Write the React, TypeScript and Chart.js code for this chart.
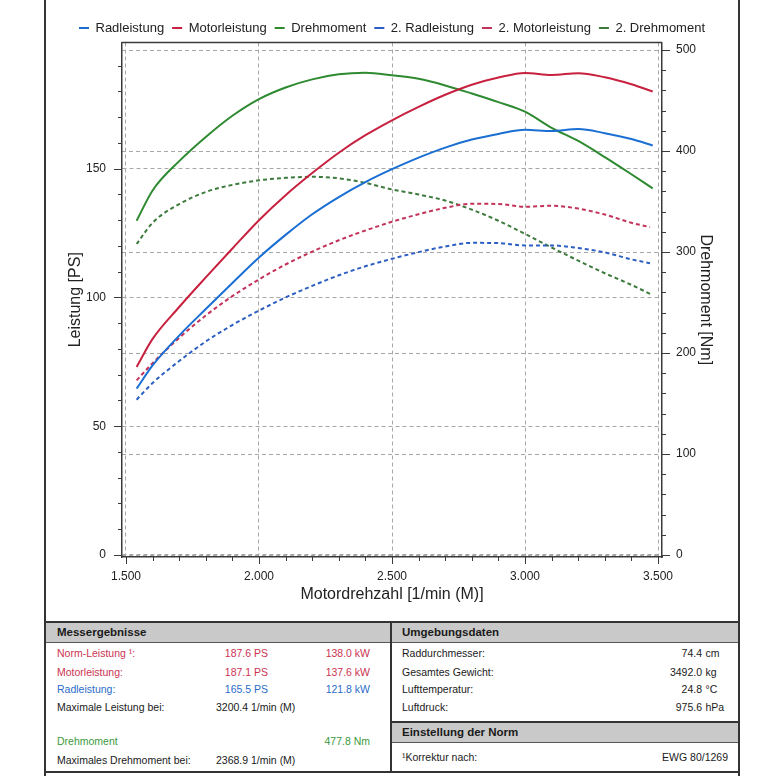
import React, { useEffect, useRef } from 'react';
import { Chart, registerables } from 'chart.js';

Chart.register(...registerables);

// ---------- data ----------
const rpmMain = [1540, 1600, 1700, 1800, 1900, 2000, 2100, 2200, 2300, 2400, 2500, 2600, 2700, 2800, 2900, 3000, 3100, 3200, 3300, 3400, 3480];
const radleistung = [64.6, 73.6, 85.2, 95.5, 105.6, 115.5, 124.3, 132.3, 139, 144.8, 149.8, 154.3, 158.2, 161.3, 163.5, 165.1, 164.6, 165.4, 163.8, 161.5, 159];
const motorleistung = [73, 83.9, 96.3, 107.8, 119, 130, 139.7, 148.3, 156.2, 163, 168.8, 174, 178.7, 182.6, 185.4, 187.2, 186.4, 187.1, 185.5, 182.8, 180];
const drehmoment = [331, 361, 390, 414, 435, 451.5, 463, 471, 476, 477.5, 475, 471.5, 465, 457, 448.5, 439, 423, 410, 394, 377, 363];

const rpmSecond = [1540, 1600, 1700, 1800, 1900, 2000, 2100, 2200, 2300, 2400, 2500, 2600, 2700, 2800, 2900, 3000, 3100, 3200, 3300, 3400, 3470];
const radleistung2 = [60.3, 66.8, 75.3, 82.9, 89.3, 94.9, 100, 104.5, 108.6, 112.1, 115, 117.6, 119.8, 121.2, 121.1, 120.2, 120.2, 119.2, 117.5, 114.8, 113.3];
const motorleistung2 = [67.8, 74.5, 84.3, 93, 100.5, 107, 112.8, 117.8, 122.2, 126, 129.4, 132.3, 134.8, 136.4, 136.3, 135.2, 135.6, 134.5, 132.2, 129, 127.3];
const drehmoment2 = [308, 329, 347.5, 359.5, 366.5, 371, 373.5, 374.5, 373, 368.5, 362, 357, 351, 342, 331, 318, 304.5, 291.5, 279, 267.5, 258.6];

const seriesLabels = ['Radleistung', 'Motorleistung', 'Drehmoment', '2. Radleistung', '2. Motorleistung', '2. Drehmoment'];

const xTickValues = [1500, 1600, 1700, 1800, 1900, 2000, 2100, 2200, 2300, 2400, 2500, 2600, 2700, 2800, 2900, 3000, 3100, 3200, 3300, 3400, 3500];
const leftTickValues = [0, 10, 20, 30, 40, 50, 60, 70, 80, 90, 100, 110, 120, 130, 140, 150, 160, 170, 180, 190];
const rightTickValues = [0, 20, 40, 60, 80, 100, 120, 140, 160, 180, 200, 220, 240, 260, 280, 300, 320, 340, 360, 380, 400, 420, 440, 460, 480, 500];

// table texts
const messLabels = ['Norm-Leistung \u00b9:', 'Motorleistung:', 'Radleistung:', 'Maximale Leistung bei:', 'Drehmoment', 'Maximales Drehmoment bei:'];
const messPS = ['187.6 PS', '187.1 PS', '165.5 PS'];
const messKW = ['138.0 kW', '137.6 kW', '121.8 kW'];
const maxLeistungBei = '3200.4 1/min (M)';
const maxDrehmoment = '477.8 Nm';
const maxDrehmomentBei = '2368.9 1/min (M)';
const umgLabels = ['Raddurchmesser:', 'Gesamtes Gewicht:', 'Lufttemperatur:', 'Luftdruck:'];
const umgValues = ['74.4', '3492.0', '24.8', '975.6'];
const umgUnits = ['cm', 'kg', '\u00b0C', 'hPa'];
const normLabel = '\u00b9Korrektur nach:';
const normValue = 'EWG 80/1269';

// ---------- styles ----------
const FONT = "'Liberation Sans', Arial, sans-serif";
const BLUE = '#1b6fd3';
const RED = '#c8203f';
const GREEN = '#2e8a30';
const BLUE2 = '#2d5fc2';
const RED2 = '#c2325a';
const GREEN2 = '#3d7a3d';
const GRID = '#a8a8a8';
const AXIS = '#3a3a3a';
const TXT_RED = '#cc3352';
const TXT_BLUE = '#2a6cc8';
const TXT_GREEN = '#3c9a3c';

const pts = (xs: number[], ys: number[]) => xs.map((x, i) => ({ x, y: ys[i] }));
const deFmt = (v: number) => {
  const s = String(v);
  return s.length > 3 ? s.slice(0, s.length - 3) + '.' + s.slice(-3) : s;
};
const hidden = 'rgba(0,0,0,0)';

const framePlugin = {
  id: 'frameTicks',
  afterLayout(chart: any) {
    if (chart.legend) {
      chart.legend.top += 2;
      chart.legend.bottom += 2;
    }
  },
  afterDraw(chart: any) {
    const { ctx, chartArea: a, scales } = chart;
    ctx.save();
    ctx.strokeStyle = AXIS;
    ctx.lineWidth = 1.5;
    ctx.beginPath();
    ctx.moveTo(a.left, a.top);
    ctx.lineTo(a.right, a.top);
    ctx.stroke();
    ctx.lineWidth = 1;
    ctx.beginPath();
    const x = scales.x;
    x.ticks.forEach((t: any) => {
      const p = Math.round(x.getPixelForValue(t.value)) + 0.5;
      const len = t.value % 500 === 0 ? 7 : 4;
      ctx.moveTo(p, a.bottom);
      ctx.lineTo(p, a.bottom + len);
    });
    const yl = scales.yL;
    yl.ticks.forEach((t: any) => {
      const p = Math.round(yl.getPixelForValue(t.value)) + 0.5;
      const len = t.value % 50 === 0 ? 8 : 4;
      ctx.moveTo(a.left - len, p);
      ctx.lineTo(a.left, p);
    });
    const yr = scales.yR;
    yr.ticks.forEach((t: any) => {
      const p = Math.round(yr.getPixelForValue(t.value)) + 0.5;
      const len = t.value % 100 === 0 ? 8 : 4;
      ctx.moveTo(a.right, p);
      ctx.lineTo(a.right + len, p);
    });
    ctx.stroke();
    ctx.restore();
  },
};

function Txt(props: { x: number; y: number; text: string; color?: string; align?: 'left' | 'right'; bold?: boolean; size?: number }) {
  const { x, y, text, color = '#1a1a1a', align = 'left', bold = false, size = 10.5 } = props;
  return (
    <div
      style={{
        position: 'absolute',
        left: x,
        top: y - 8,
        lineHeight: '16px',
        height: 16,
        fontFamily: FONT,
        fontSize: size,
        fontWeight: bold ? 700 : 400,
        color,
        whiteSpace: 'nowrap',
        transform: align === 'right' ? 'translateX(-100%)' : undefined,
      }}
    >
      {text}
    </div>
  );
}

function Box(props: { x: number; y: number; w: number; h: number; bg: string }) {
  return <div style={{ position: 'absolute', left: props.x, top: props.y, width: props.w, height: props.h, background: props.bg }} />;
}

export default function App() {
  const ref = useRef<HTMLCanvasElement>(null);

  useEffect(() => {
    const mk = (label: string, xs: number[], ys: number[], color: string, axis: string, dashed: boolean) => ({
      label,
      data: pts(xs, ys),
      borderColor: color,
      backgroundColor: color,
      borderWidth: 2,
      borderDash: dashed ? [4, 3] : [],
      pointRadius: 0,
      pointStyle: 'line',
      yAxisID: axis,
      cubicInterpolationMode: 'monotone',
      fill: false,
    });
    const chart = new Chart(ref.current as HTMLCanvasElement, {
      type: 'line',
      data: {
        datasets: [
          mk(seriesLabels[0], rpmMain, radleistung, BLUE, 'yL', false),
          mk(seriesLabels[1], rpmMain, motorleistung, RED, 'yL', false),
          mk(seriesLabels[2], rpmMain, drehmoment, GREEN, 'yR', false),
          mk(seriesLabels[3], rpmSecond, radleistung2, BLUE2, 'yL', true),
          mk(seriesLabels[4], rpmSecond, motorleistung2, RED2, 'yL', true),
          mk(seriesLabels[5], rpmSecond, drehmoment2, GREEN2, 'yR', true),
        ] as any,
      },
      options: {
        animation: false,
        responsive: false,
        layout: { padding: { top: 11.5, left: 0, right: 0, bottom: 0 } },
        plugins: {
          legend: {
            position: 'top',
            align: 'center',
            labels: {
              usePointStyle: true,
              pointStyle: 'line',
              pointStyleWidth: 10,
              padding: 8,
              color: '#222',
              font: { family: FONT, size: 13 },
            },
          },
          tooltip: { enabled: false },
        },
        scales: {
          x: {
            type: 'linear',
            position: 'bottom',
            min: 1485,
            max: 3515,
            afterBuildTicks: (s: any) => {
              s.ticks = xTickValues.map((v) => ({ value: v }));
            },
            afterFit: (s: any) => {
              s.height = 63;
            },
            ticks: {
              autoSkip: false,
              maxRotation: 0,
              padding: 4,
              color: '#222',
              font: { family: FONT, size: 12 },
              callback: (v: any) => (Number(v) % 500 === 0 ? deFmt(Number(v)) : ''),
            },
            grid: {
              color: (c: any) => (c.tick && c.tick.value % 500 === 0 ? GRID : hidden),
              tickColor: hidden,
              tickLength: 8,
              lineWidth: 1,
            },
            border: { color: AXIS, width: 1.5, dash: [4, 3] },
            title: {
              display: true,
              text: 'Motordrehzahl [1/min (M)]',
              color: '#222',
              font: { family: FONT, size: 16 },
              padding: { top: 0, bottom: 16 },
            },
          },
          yL: {
            type: 'linear',
            position: 'left',
            min: -0.78,
            max: 199,
            afterBuildTicks: (s: any) => {
              s.ticks = leftTickValues.map((v) => ({ value: v }));
            },
            afterFit: (s: any) => {
              s.width = 76;
            },
            ticks: {
              autoSkip: false,
              padding: 8,
              color: '#222',
              font: { family: FONT, size: 12 },
              callback: (v: any) => (Number(v) % 50 === 0 ? String(v) : ''),
            },
            grid: {
              color: (c: any) => (c.tick && c.tick.value % 50 === 0 ? GRID : hidden),
              tickColor: hidden,
              tickLength: 8,
              lineWidth: 1,
            },
            border: { color: AXIS, width: 1.5, dash: [4, 3] },
            title: {
              display: true,
              text: 'Leistung [PS]',
              color: '#222',
              font: { family: FONT, size: 16 },
              padding: { top: 20, bottom: 0 },
            },
          },
          yR: {
            type: 'linear',
            position: 'right',
            min: -1.98,
            max: 507.5,
            afterBuildTicks: (s: any) => {
              s.ticks = rightTickValues.map((v) => ({ value: v }));
            },
            afterFit: (s: any) => {
              s.width = 76;
            },
            ticks: {
              autoSkip: false,
              padding: 6,
              color: '#222',
              font: { family: FONT, size: 12 },
              callback: (v: any) => (Number(v) % 100 === 0 ? String(v) : ''),
            },
            grid: {
              color: (c: any) => (c.tick && c.tick.value % 100 === 0 ? GRID : hidden),
              tickColor: hidden,
              tickLength: 8,
              lineWidth: 1,
            },
            border: { color: AXIS, width: 1.5, dash: [4, 3] },
            title: {
              display: true,
              text: 'Drehmoment [Nm]',
              color: '#222',
              font: { family: FONT, size: 16 },
              padding: { top: 23, bottom: 0 },
            },
          },
        },
      } as any,
      plugins: [framePlugin],
    });
    return () => chart.destroy();
  }, []);

  const rowY = [653, 671.5, 689, 707];
  const messColors = [TXT_RED, TXT_RED, TXT_BLUE];

  return (
    <div style={{ position: 'fixed', left: 0, top: 0, width: 774, height: 776, background: '#fff', overflow: 'hidden' }}>
      <canvas
        ref={ref}
        width={692}
        height={620}
        style={{ position: 'absolute', left: 46, top: 0, width: 692, height: 620 }}
      />
      {/* page borders */}
      <Box x={44} y={0} w={2} h={776} bg="#333" />
      <Box x={738} y={0} w={2} h={776} bg="#333" />
      {/* table frame */}
      <Box x={44} y={621} w={696} h={2} bg="#333" />
      <Box x={46} y={623} w={692} h={19.5} bg="#c9c9c9" />
      <Box x={46} y={642} w={692} h={1} bg="#555" />
      <Box x={390} y={621} w={2} h={152} bg="#333" />
      <Box x={392} y={721} w={346} h={2} bg="#333" />
      <Box x={392} y={723} w={346} h={18.5} bg="#c9c9c9" />
      <Box x={392} y={741.5} w={346} h={1} bg="#555" />
      <Box x={44} y={771} w={696} h={2} bg="#333" />

      {/* Messergebnisse */}
      <Txt x={57} y={632} text="Messergebnisse" bold size={11.5} />
      {messPS.map((v, i) => (
        <React.Fragment key={'m' + i}>
          <Txt x={57} y={rowY[i]} text={messLabels[i]} color={messColors[i]} />
          <Txt x={268} y={rowY[i]} text={v} color={messColors[i]} align="right" />
          <Txt x={370} y={rowY[i]} text={messKW[i]} color={messColors[i]} align="right" />
        </React.Fragment>
      ))}
      <Txt x={57} y={707} text={messLabels[3]} />
      <Txt x={216} y={707} text={maxLeistungBei} />
      <Txt x={57} y={741} text={messLabels[4]} color={TXT_GREEN} />
      <Txt x={370} y={741} text={maxDrehmoment} color={TXT_GREEN} align="right" />
      <Txt x={57} y={760} text={messLabels[5]} />
      <Txt x={216} y={760} text={maxDrehmomentBei} />

      {/* Umgebungsdaten */}
      <Txt x={402} y={632} text="Umgebungsdaten" bold size={11.5} />
      {umgLabels.map((l, i) => (
        <React.Fragment key={'u' + i}>
          <Txt x={402} y={rowY[i]} text={l} />
          <Txt x={702} y={rowY[i]} text={umgValues[i]} align="right" />
          <Txt x={705.5} y={rowY[i]} text={umgUnits[i]} />
        </React.Fragment>
      ))}
      <Txt x={402} y={732} text="Einstellung der Norm" bold size={11.5} />
      <Txt x={402} y={757} text={normLabel} />
      <Txt x={728} y={757} text={normValue} align="right" />
    </div>
  );
}
